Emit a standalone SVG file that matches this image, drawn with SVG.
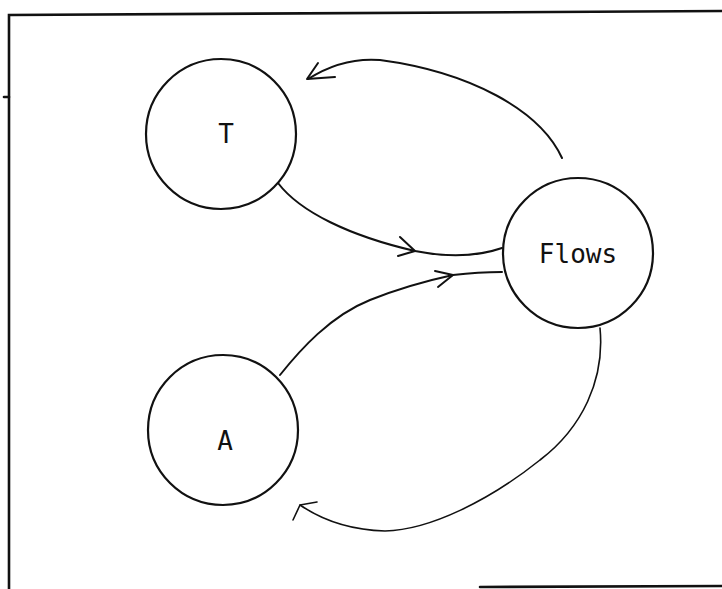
<svg xmlns="http://www.w3.org/2000/svg" width="722" height="589" viewBox="0 0 722 589">
  <style>
    .frame { fill: none; stroke: #111; stroke-width: 2.6; stroke-linecap: round; }
    .node circle { fill: #fff; stroke: #111; stroke-width: 2.2; }
    .node text { font-family: "DejaVu Sans Mono", "Liberation Mono", monospace; font-size: 26px; fill: #111; text-anchor: middle; }
    .edge { fill: none; stroke: #111; stroke-width: 2; stroke-linecap: round; stroke-linejoin: round; }
    .edge.light { stroke-width: 1.6; }
  </style>
  <rect width="722" height="589" fill="#fff"/>

  <!-- page frame -->
  <g id="frame">
    <path class="frame" d="M9,589 L9,15 L722,11"/>
    <path class="frame" d="M480,587 L722,586"/>
    <path class="frame" d="M4,97 L9,97"/>
  </g>

  <!-- connectors -->
  <g id="connectors">
    <!-- T to Flows -->
    <path class="edge" d="M278,183 C300,212 350,236 415,251 C440,256 470,259 502,248"/>
    <path class="edge" d="M400,237 L415,251 L398,256"/>
    <!-- A to Flows -->
    <path class="edge" d="M280,375 C300,350 330,316 370,300 C400,288 430,280 453,275 C470,273 490,272 502,272"/>
    <path class="edge" d="M435,271 L453,275 L438,287"/>
    <!-- Flows back to T -->
    <path class="edge" d="M562,158 C540,110 470,72 380,60 C355,58 330,65 308,79"/>
    <path class="edge" d="M318,63 L307,79 L335,77"/>
    <!-- Flows back to A -->
    <path class="edge light" d="M600,328 C605,380 582,428 540,460 C490,500 430,530 385,531 C350,530 322,520 300,505"/>
    <path class="edge light" d="M317,502 L300,505 L293,520"/>
  </g>

  <g id="node-T" class="node">
    <circle cx="221" cy="134" r="75"/>
    <text x="226" y="143">T</text>
  </g>
  <g id="node-Flows" class="node">
    <circle cx="578" cy="253" r="75"/>
    <text x="578" y="263">Flows</text>
  </g>
  <g id="node-A" class="node">
    <circle cx="223" cy="430" r="75"/>
    <text x="225" y="450">A</text>
  </g>
</svg>
